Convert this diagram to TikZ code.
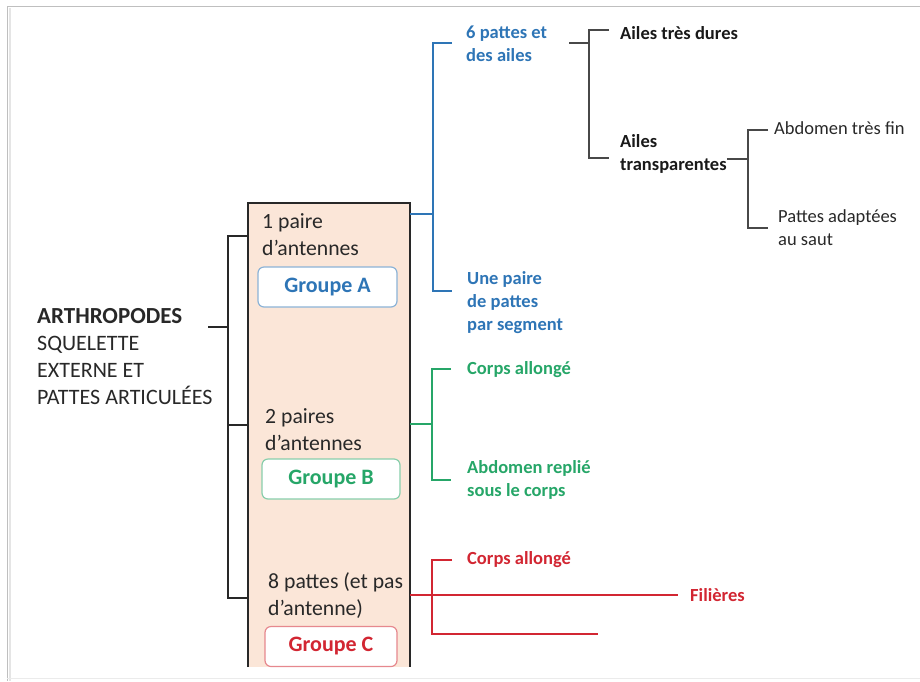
\documentclass[tikz,border=0pt]{standalone}
\usepackage{fontspec}
\setmainfont{Carlito}
\usepackage{tikz}
\usetikzlibrary{positioning}
\usepackage{xcolor}

\definecolor{ablue}{RGB}{46,117,182}
\definecolor{agreen}{RGB}{38,166,104}
\definecolor{ared}{RGB}{210,38,50}
\definecolor{peach}{RGB}{251,230,216}
\definecolor{ink}{RGB}{40,40,40}

\begin{document}
\begin{tikzpicture}[x=1pt, y=-1pt,
    lab/.style={anchor=west, align=left, inner sep=0pt, font=\fontsize{18.5}{23}\selectfont\bfseries},
    labr/.style={anchor=west, align=left, inner sep=0pt, text=ink, font=\fontsize{18.5}{23}\selectfont},
    boxtext/.style={anchor=west, align=left, inner sep=0pt, text=ink, font=\fontsize{21.7}{27}\selectfont},
    groupe/.style={fill=white, rounded corners=6pt, line width=1.2pt, minimum height=40pt, font=\fontsize{22}{26}\selectfont\bfseries},
    kline/.style={ink, line width=1.8pt},
    bline/.style={ablue, line width=1.4pt},
    gline/.style={agreen, line width=1.4pt},
    rline/.style={ared, line width=1.4pt},
    nline/.style={ink!85, line width=1.4pt}]
    \useasboundingbox (0,0) rectangle (920,681);

    % Frame of the screenshot
    \draw[black!25, line width=1pt] (7,681) -- (7,6) -- (925,6);
    \draw[black!10, line width=2pt] (9.5,681) -- (9.5,8);
    \draw[black!8, line width=1pt] (7,678) -- (925,678);

    % Column of the three groups
    \node[fill=peach, inner sep=0pt, minimum width=162pt, minimum height=464pt] (col) at (329,435) {};
    \draw[ink, line width=1.8pt] (col.south west) |- (col.north east) -- (col.south east);

    \node[boxtext] (t1) at (262,235) {1 paire\\d’antennes};
    \node[groupe, draw=ablue!55, text=ablue, minimum width=139pt] (gA) at (327.5,287) {Groupe A};
    \node[boxtext] (t2) at (265,430) {2 paires\\d’antennes};
    \node[groupe, draw=agreen!55, text=agreen, minimum width=138pt] (gB) at (331,479) {Groupe B};
    \node[boxtext] (t3) at (268,596) {8 pattes (et pas\\d’antenne)};
    \node[groupe, draw=ared!55, text=ared, minimum width=132pt] (gC) at (331,646.5) {Groupe C};

    % Arthropodes
    \node[anchor=west, align=left, inner sep=0pt, text=ink, font=\fontsize{22}{27}\selectfont] (arth) at (37,357)
        {{\fontsize{23}{27}\selectfont\bfseries ARTHROPODES}\\SQUELETTE\\EXTERNE ET\\PATTES ARTICULÉES};
    \coordinate (arthtip) at (208,327);
    \coordinate (spineL) at (228,236);
    \draw[kline] (col.west |- 0,236) -- (spineL) -- (spineL |- 0,598) -- (col.west |- 0,598);
    \draw[kline] (col.west |- 0,425) -- (spineL |- 0,425);
    \draw[kline] (arthtip) -- (spineL |- arthtip);

    % Groupe A
    \node[lab, ablue] (six) at (466,44) {6 pattes et\\des ailes};
    \node[lab, ablue] (une) at (467,303) {Une paire\\de pattes\\par segment};
    \coordinate (spineA) at (433,43);
    \draw[bline] (col.east |- 0,214) -- (spineA |- 0,214);
    \draw[bline] (452,43) -- (spineA) -- (spineA |- 0,291) -- (452,291);

    \node[lab, text=black!90] (dures) at (620,33) {Ailes très dures};
    \node[lab, text=black!90] (transp) at (620,154) {Ailes\\transparentes};
    \coordinate (spineW) at (589,30);
    \draw[nline] (569,43) -- (spineW |- 0,43);
    \draw[nline] (609,30) -- (spineW) -- (spineW |- 0,158) -- (609,158);

    \node[labr] (fin) at (774,128) {Abdomen très fin};
    \node[labr] (saut) at (778,228) {Pattes adaptées\\au saut};
    \coordinate (spineT) at (748,130);
    \draw[nline] (transp.east |- 0,159) -- (spineT |- 0,159);
    \draw[nline] (768,130) -- (spineT) -- (spineT |- 0,228) -- (768,228);

    % Groupe B
    \node[lab, agreen] (allB) at (467,370) {Corps allongé};
    \node[lab, agreen] (repl) at (467,480) {Abdomen replié\\sous le corps};
    \coordinate (spineB) at (432,369);
    \draw[gline] (col.east |- 0,424) -- (spineB |- 0,424);
    \draw[gline] (451,369) -- (spineB) -- (spineB |- 0,480) -- (451,480);

    % Groupe C
    \node[lab, ared] (allC) at (467,560) {Corps allongé};
    \node[lab, ared] (fil) at (690,595) {Filières};
    \coordinate (spineC) at (432,560);
    \coordinate (endC) at (598,634);
    \draw[rline] (col.east |- fil) -- ([xshift=-12pt]fil.west);
    \draw[rline] (452,560) -- (spineC) -- (spineC |- endC) -- (endC);
\end{tikzpicture}
\end{document}
